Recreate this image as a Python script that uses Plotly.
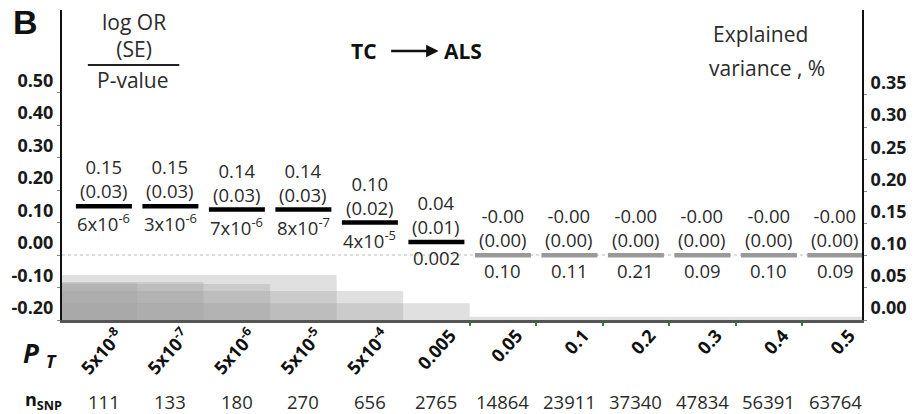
import plotly.graph_objects as go

# ---------------- data ----------------
pt_labels = ["5x10<sup>-8</sup>", "5x10<sup>-7</sup>", "5x10<sup>-6</sup>", "5x10<sup>-5</sup>",
             "5x10<sup>-4</sup>", "0.005", "0.05", "0.1", "0.2", "0.3", "0.4", "0.5"]
n_snp = [111, 133, 180, 270, 656, 2765, 14864, 23911, 37340, 47834, 56391, 63764]
log_or = [0.15, 0.15, 0.14, 0.14, 0.10, 0.04, -0.001, -0.001, -0.001, -0.001, -0.001, -0.001]
log_or_text = ["0.15", "0.15", "0.14", "0.14", "0.10", "0.04",
               "-0.00", "-0.00", "-0.00", "-0.00", "-0.00", "-0.00"]
se_text = ["0.03", "0.03", "0.03", "0.03", "0.02", "0.01",
           "0.00", "0.00", "0.00", "0.00", "0.00", "0.00"]
p_text = ["6x10<sup>-6</sup>", "3x10<sup>-6</sup>", "7x10<sup>-6</sup>", "8x10<sup>-7</sup>",
          "4x10<sup>-5</sup>", "0.002", "0.10", "0.11", "0.21", "0.09", "0.10", "0.09"]
expl_var = [0.058, 0.059, 0.056, 0.070, 0.045, 0.026, 0.005, 0.005, 0.005, 0.005, 0.005, 0.005]
significant = [True] * 6 + [False] * 6

left_ticks = [-0.2, -0.1, 0.0, 0.1, 0.2, 0.3, 0.4, 0.5]
right_ticks = [0.0, 0.05, 0.10, 0.15, 0.20, 0.25, 0.30, 0.35]

# ---------------- layout constants ----------------
W, H = 917, 414
ML, MR, MT, MB = 62, 50, 10, 94
X_RANGE = [-0.63, 11.40]
FONT = "Open Sans"
TXT = "#2b2b2b"
VS = 18.5  # value text size

def px(xp):
    return (xp - ML) / (W - ML - MR)

def py(yp):
    return (H - MB - yp) / (H - MT - MB)

n = len(pt_labels)
idx = list(range(n))

fig = go.Figure()

# explained variance bars (stair-like overlapping translucent bars)
bx, bw, by = [], [], []
for i in idx:
    if significant[i]:
        right = i + 0.5
        left = X_RANGE[0]
    else:
        left, right = i - 0.5, i + 0.5
    bx.append((left + right) / 2)
    bw.append(right - left)
    by.append(expl_var[i])
fig.add_trace(go.Bar(x=bx, y=by, width=bw, yaxis="y2",
                     marker=dict(color="rgba(160,160,160,0.33)", line=dict(width=0)),
                     hoverinfo="skip", showlegend=False))

# log OR markers
fig.add_trace(go.Scatter(
    x=idx, y=log_or, mode="markers", yaxis="y",
    marker=dict(symbol="line-ew", size=40,
                line=dict(width=4.5, color=["#000000" if s else "#999999" for s in significant])),
    hoverinfo="skip", showlegend=False))

annotations = []
for i in idx:
    annotations.append(dict(x=i, y=log_or[i], xref="x", yref="y",
                            text=f"{log_or_text[i]}<br>({se_text[i]})",
                            showarrow=False, yanchor="bottom", yshift=1,
                            font=dict(family=FONT, size=VS, color=TXT)))
    annotations.append(dict(x=i, y=log_or[i], xref="x", yref="y",
                            text=p_text[i], showarrow=False, yanchor="top", yshift=-1,
                            font=dict(family=FONT, size=VS, color=TXT)))
    annotations.append(dict(x=i, y=py(401), xref="x", yref="paper",
                            text=str(n_snp[i]), showarrow=False, yanchor="middle",
                            font=dict(family=FONT, size=VS, color=TXT)))

# headers
hdr = [
    ("<b>B</b>", 25, 22, 34, "Liberation Sans", "#111"),
    ("log OR<br>(SE)", 134, 35, 21, FONT, TXT),
    ("P-value", 133, 80, 21, FONT, TXT),
    ("<b>TC</b>", 366, 51, 21, FONT, "#111"),
    ("<b>ALS</b>", 466, 51, 21, FONT, "#111"),
    ("Explained", 765, 34, 21, FONT, TXT),
    ("variance , %", 771, 68, 21, FONT, TXT),
    ("<b><i>P</i></b> <sub><b><i>T</i></b></sub>", 40, 354, 26, FONT, "#111"),
    ("<b>n<sub>SNP</sub></b>", 43, 400, 18, FONT, "#111"),
]
for t, x, y, s, f, c in hdr:
    annotations.append(dict(x=px(x), y=py(y), xref="paper", yref="paper", text=t,
                            showarrow=False, xanchor="center", yanchor="middle",
                            font=dict(family=f, size=s, color=c)))
# arrow TC -> ALS
annotations.append(dict(x=px(441), y=py(51), xref="paper", yref="paper", text="",
                        showarrow=True, ax=-49, ay=0, arrowhead=2, arrowsize=1,
                        arrowwidth=2.5, arrowcolor="#111", standoff=0))

shapes = [
    dict(type="line", xref="paper", yref="y", x0=0, x1=1, y0=0, y1=0,
         line=dict(color="#bbbbbb", width=1, dash="dot"), layer="below"),
    dict(type="line", xref="paper", yref="paper", x0=px(88), x1=px(180), y0=py(65), y1=py(65),
         line=dict(color="#222", width=2)),
]

axis_font = dict(family=FONT, size=18, color="#1a1a1a", weight=700)
fig.update_layout(
    width=W, height=H, margin=dict(l=ML, r=MR, t=MT, b=MB),
    paper_bgcolor="white", plot_bgcolor="white",
    barmode="overlay", showlegend=False,
    xaxis=dict(range=X_RANGE, tickvals=idx, ticktext=[f"<b>{t}</b>" for t in pt_labels],
               tickangle=-48, tickfont=dict(family=FONT, size=18, color="#111", weight=700),
               ticks="", ticklabelshift=14, ticklabelstandoff=-5,
               showline=True, linecolor="#555", linewidth=3, showgrid=False, zeroline=False,
               minor=dict(tickvals=[i + 0.5 for i in range(5, 11)], ticks="outside",
                          ticklen=3, tickcolor="#2a8a2a", tickwidth=1.5)),
    yaxis=dict(range=[-0.2, 0.754], tickvals=left_ticks,
               ticktext=[f"{v:.2f}" for v in left_ticks], tickfont=axis_font,
               ticklabelshift=-12, showline=True, linecolor="#111", linewidth=2,
               ticks="outside", ticklen=3, tickcolor="#888", showgrid=False, zeroline=False),
    yaxis2=dict(range=[0, 0.482], overlaying="y", side="right", tickvals=right_ticks,
                ticktext=[f"{v:.2f}" for v in right_ticks], tickfont=axis_font,
                ticklabelshift=-12, showline=True, linecolor="#111", linewidth=2,
                ticks="outside", ticklen=3, tickcolor="#888", showgrid=False, zeroline=False),
    annotations=annotations, shapes=shapes,
)

fig.write_html("out.html")
